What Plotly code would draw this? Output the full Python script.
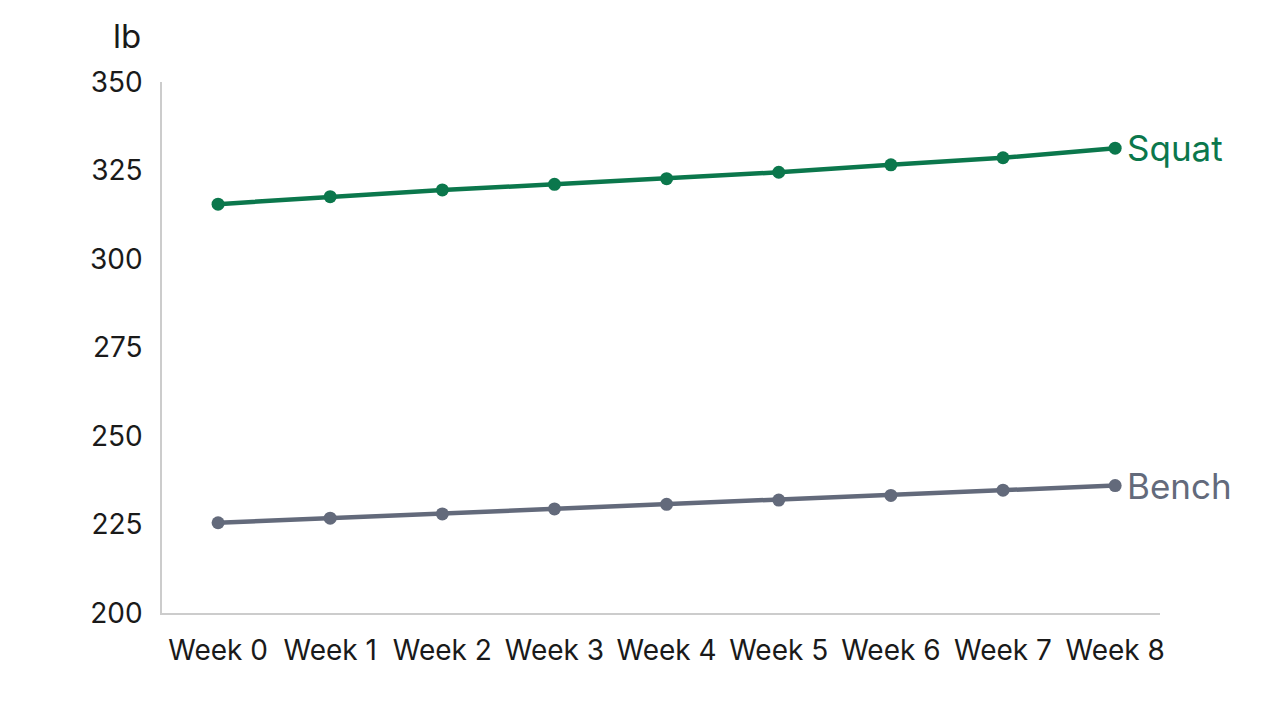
import plotly.graph_objects as go

weeks = ["Week 0", "Week 1", "Week 2", "Week 3", "Week 4", "Week 5", "Week 6", "Week 7", "Week 8"]
squat = [315.5, 317.6, 319.5, 321.1, 322.7, 324.5, 326.6, 328.6, 331.3]
bench = [225.5, 226.8, 228.0, 229.4, 230.7, 231.9, 233.2, 234.7, 236.0]
y_ticks = [200, 225, 250, 275, 300, 325, 350]

GREEN = "#0B774C"
GRAY = "#636A7B"
FONT = "Inter, Roboto, sans-serif"

fig = go.Figure()
fig.add_trace(go.Scatter(x=weeks, y=squat, mode="lines+markers", name="Squat",
                         line=dict(color=GREEN, width=4.5), marker=dict(size=13, color=GREEN)))
fig.add_trace(go.Scatter(x=weeks, y=bench, mode="lines+markers", name="Bench",
                         line=dict(color=GRAY, width=4.5), marker=dict(size=13, color=GRAY)))

fig.add_annotation(x=weeks[-1], y=squat[-1], text="Squat", showarrow=False,
                   xanchor="left", yanchor="middle", xshift=10,
                   font=dict(family=FONT, size=35, color=GREEN))
fig.add_annotation(x=weeks[-1], y=bench[-1], text="Bench", showarrow=False,
                   xanchor="left", yanchor="middle", xshift=10,
                   font=dict(family=FONT, size=35, color=GRAY))
fig.add_annotation(xref="x domain", yref="y domain", x=-0.035, y=1.087, text="lb",
                   showarrow=False, xanchor="center", yanchor="middle",
                   font=dict(family=FONT, size=33, color="#1a1a1a"))

fig.update_layout(
    width=1280, height=714,
    margin=dict(l=162, r=120, t=82, b=101),
    plot_bgcolor="white", paper_bgcolor="white",
    showlegend=False,
    font=dict(family=FONT, size=28, color="#1a1a1a"),
)
fig.update_xaxes(range=[-0.5, 8.4], showgrid=False, showline=True, linecolor="#cccccc", linewidth=1.5,
                 ticks="", ticklabelstandoff=12, tickfont=dict(size=28))
fig.update_yaxes(range=[200, 350], tickvals=y_ticks, showgrid=False, showline=True, linecolor="#cccccc",
                 linewidth=1.5, ticks="", ticklabelstandoff=12, zeroline=False, tickfont=dict(size=28))

fig.write_html("out.html")
